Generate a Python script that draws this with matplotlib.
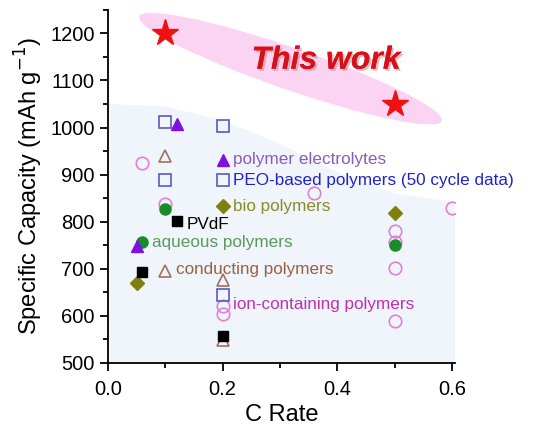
import matplotlib.pyplot as plt
from matplotlib.patches import Ellipse, Polygon
from matplotlib.transforms import ScaledTranslation
import matplotlib.patheffects as pe

plt.rcParams['font.family'] = ['Liberation Sans', 'DejaVu Sans']

# data
star_x = [0.1, 0.5]
star_y = [1200, 1050]

pe_x = [0.12, 0.05]            # polymer electrolytes
pe_y = [1008, 748]
peo_x = [0.1, 0.2, 0.1, 0.2]   # PEO-based polymers
peo_y = [1012, 1004, 888, 645]
ion_x = [0.06, 0.1, 0.36, 0.6, 0.5, 0.5, 0.5, 0.5, 0.2, 0.2]
ion_y = [925, 838, 862, 829, 780, 757, 702, 590, 622, 605]
cond_x = [0.1, 0.2, 0.2]       # conducting polymers
cond_y = [940, 677, 548]
bio_x = [0.5, 0.05]
bio_y = [818, 670]
pvdf_x = [0.06, 0.2]
pvdf_y = [693, 558]
aq_x = [0.1, 0.5]
aq_y = [827, 750]

# shaded region upper edge
region_x = [0, 0.1, 0.2, 0.3, 0.4, 0.5, 0.614]
region_y = [1050, 1045, 1015, 965, 905, 860, 840]

fig = plt.figure(figsize=(5.45, 4.28), dpi=100)
ax = fig.add_axes([0.198, 0.152, 0.637, 0.825])
ax.set_xlim(0, 0.605)
ax.set_ylim(500, 1250)

pts = [(0, 500)] + list(zip(region_x, region_y)) + [(region_x[-1], 500)]
ax.add_patch(Polygon(pts, closed=True, facecolor='#f0f5fb', edgecolor='none', zorder=0))

tr = fig.dpi_scale_trans + ScaledTranslation(0.318, 1125, ax.transData)
ax.add_patch(Ellipse((0, 0), 3.2, 0.42, angle=-19, transform=tr,
                     facecolor='#fbd3f3', edgecolor='none', zorder=1))

ax.plot(star_x, star_y, '*', color='#f01010', markersize=20, zorder=3)
ax.text(0.51, 1142, 'This work', color='#d8101a', fontsize=23, fontweight='bold',
        style='italic', ha='right', va='center',
        path_effects=[pe.withSimplePatchShadow(offset=(1.5, -1.5), shadow_rgbFace='#c08080', alpha=0.5),
                      pe.Normal()])

ax.plot(ion_x, ion_y, 'o', mfc='none', mec='#e080d8', ms=9, mew=1.2, ls='none', zorder=3)
ax.plot(peo_x, peo_y, 's', mfc='none', mec='#5a5ac0', ms=8, mew=1.2, ls='none', zorder=3)
ax.plot(cond_x, cond_y, '^', mfc='none', mec='#a07060', ms=9, mew=1.2, ls='none', zorder=3)
ax.plot(aq_x, aq_y, 'o', color='#1a8a2a', ms=8, ls='none', zorder=3)
ax.plot(pe_x, pe_y, '^', color='#8010e0', ms=9, ls='none', zorder=4)
ax.plot(bio_x, bio_y, 'D', color='#808010', ms=7, ls='none', zorder=3)
ax.plot(pvdf_x, pvdf_y, 's', color='black', ms=7, ls='none', zorder=4)

# in-plot legend entries
fs = 12.3
ax.plot(0.2, 932, '^', color='#8010e0', ms=9)
ax.text(0.218, 932, 'polymer electrolytes', color='#8a5cb8', fontsize=fs, va='center')
ax.plot(0.2, 888, 's', mfc='none', mec='#5a5ac0', ms=8, mew=1.2)
ax.text(0.218, 888, 'PEO-based polymers (50 cycle data)', color='#2222c8', fontsize=fs, va='center')
ax.plot(0.2, 833, 'D', color='#808010', ms=7)
ax.text(0.218, 833, 'bio polymers', color='#8a8a2a', fontsize=fs, va='center')
ax.plot(0.12, 802, 's', color='black', ms=7)
ax.text(0.137, 795, 'PVdF', color='black', fontsize=fs, va='center')
ax.plot(0.06, 756, 'o', color='#1a8a2a', ms=8)
ax.text(0.077, 756, 'aqueous polymers', color='#5a9a5a', fontsize=fs, va='center')
ax.plot(0.1, 695, '^', mfc='none', mec='#a07060', ms=9, mew=1.2)
ax.text(0.118, 698, 'conducting polymers', color='#9a6040', fontsize=fs, va='center')
ax.text(0.218, 625, 'ion-containing polymers', color='#c030b0', fontsize=fs, va='center')

ax.spines['top'].set_visible(False)
ax.spines['right'].set_visible(False)
ax.spines['left'].set_linewidth(1.3)
ax.spines['bottom'].set_linewidth(1.3)
ax.set_xticks([0.0, 0.2, 0.4, 0.6])
ax.set_xticks([0.1, 0.3, 0.5], minor=True)
ax.set_yticks(range(500, 1201, 100))
ax.set_yticks(range(550, 1251, 100), minor=True)
ax.tick_params(which='major', length=6, width=1.3, labelsize=14.5)
ax.tick_params(axis='x', which='major', pad=6)
ax.tick_params(which='minor', length=3.5, width=1.3)
ax.set_xlabel('C Rate', fontsize=17)
ax.set_ylabel('Specific Capacity (mAh g$^{-1}$)', fontsize=17)

fig.savefig('out.png', dpi=100)
